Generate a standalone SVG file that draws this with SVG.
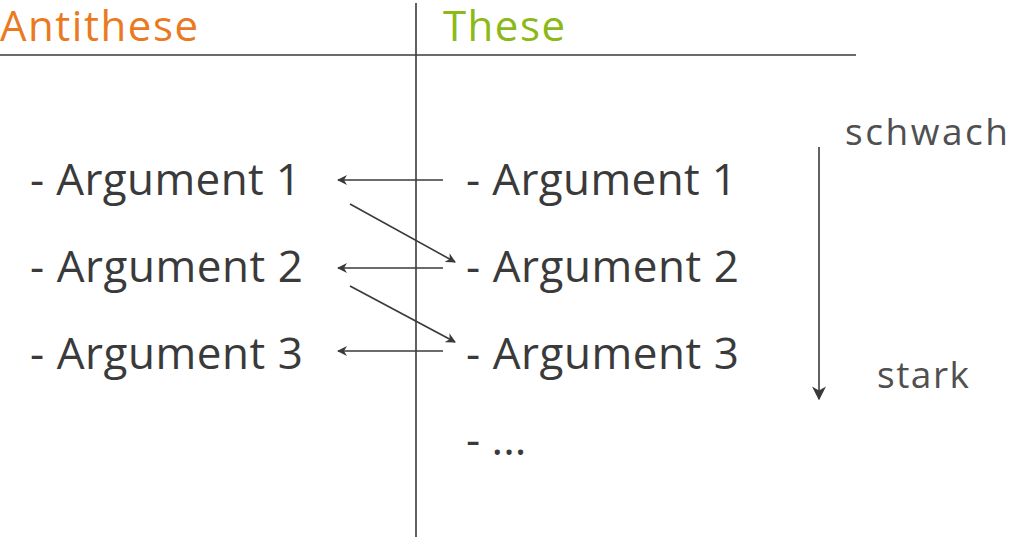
<svg xmlns="http://www.w3.org/2000/svg" width="1010" height="557" viewBox="0 0 1010 557">
<style>
.t{font-family:"Open Sans","Liberation Sans",sans-serif;font-size:44px;fill:#3a3a3a}
.s{font-family:"Open Sans","Liberation Sans",sans-serif;font-size:37px;fill:#505050}
.h{font-family:"Open Sans","Liberation Sans",sans-serif;font-size:42px}
.l{stroke:#3a3a3a;stroke-width:1.6;fill:none}
</style>
<defs><marker id="a" viewBox="0 0 10 10" refX="9" refY="5" markerWidth="10" markerHeight="10" markerUnits="userSpaceOnUse" orient="auto"><path d="M0,0L10,5L0,10L3,5z" fill="#3a3a3a"/></marker>
<marker id="b" viewBox="0 0 10 10" refX="9" refY="5" markerWidth="14" markerHeight="14" markerUnits="userSpaceOnUse" orient="auto"><path d="M0,0L10,5L0,10L3,5z" fill="#3a3a3a"/></marker></defs>
<g id="frame"><line class="l" x1="0" y1="55" x2="856" y2="55"/><line class="l" x1="416" y1="3" x2="416" y2="537"/></g>
<g id="head-antithese"><text class="h" x="0" y="41" fill="#ea7a22" textLength="198">Antithese</text></g>
<g id="head-these"><text class="h" x="443" y="41" fill="#8ab918" textLength="122">These</text></g>
<g id="left1"><text class="t" x="30" y="195" textLength="271">- Argument 1</text></g>
<g id="left2"><text class="t" x="30" y="282" textLength="273">- Argument 2</text></g>
<g id="left3"><text class="t" x="30" y="369" textLength="273">- Argument 3</text></g>
<g id="right1"><text class="t" x="466" y="195" textLength="271">- Argument 1</text></g>
<g id="right2"><text class="t" x="466" y="282" textLength="273">- Argument 2</text></g>
<g id="right3"><text class="t" x="466" y="369" textLength="273">- Argument 3</text></g>
<g id="right4"><text class="t" x="466" y="455">- ...</text></g>
<g id="schwach"><text class="s" x="845" y="145" textLength="163">schwach</text></g>
<g id="stark"><text class="s" x="877" y="388" textLength="92">stark</text></g>
<g id="connectors">
<line class="l" x1="443" y1="180" x2="338" y2="180" marker-end="url(#a)"/>
<line class="l" x1="350" y1="204" x2="455" y2="262" marker-end="url(#a)"/>
<line class="l" x1="443" y1="268" x2="338" y2="268" marker-end="url(#a)"/>
<line class="l" x1="350" y1="286" x2="455" y2="342" marker-end="url(#a)"/>
<line class="l" x1="443" y1="351" x2="338" y2="351" marker-end="url(#a)"/>
<line class="l" x1="819" y1="147" x2="819" y2="399" marker-end="url(#b)"/>
</g>
</svg>
